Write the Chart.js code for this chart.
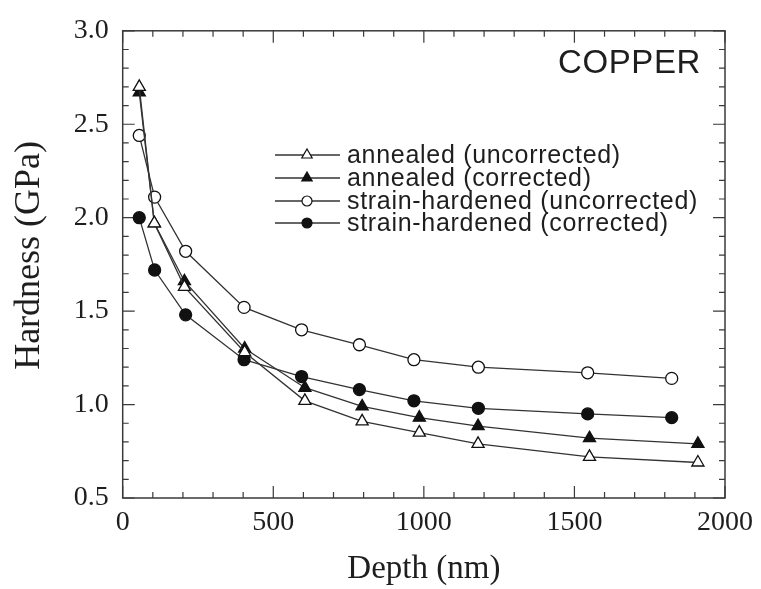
<!DOCTYPE html>
<html>
<head>
<meta charset="utf-8">
<script src="https://cdn.jsdelivr.net/npm/chart.js@4/dist/chart.umd.min.js"></script>
<style>
  html, body { margin: 0; padding: 0; background: #fff; }
  #wrap { width: 761px; height: 589px; }
</style>
</head>
<body>
<div id="wrap"><canvas id="c" width="761" height="589"></canvas></div>
<script>
// ---- data ----
const depthAnnealed = [55, 105, 205, 405, 605, 795, 985, 1180, 1550, 1910];
const hardAnnealedUncorrected = [2.70, 1.97, 1.63, 1.28, 1.02, 0.91, 0.85, 0.79, 0.72, 0.69];
const hardAnnealedCorrected = [2.67, 1.97, 1.66, 1.30, 1.09, 0.99, 0.93, 0.885, 0.82, 0.79];
const depthStrain = [55, 106, 209, 403, 594, 786, 967, 1181, 1544, 1823];
const hardStrainUncorrected = [2.44, 2.11, 1.82, 1.52, 1.40, 1.32, 1.24, 1.20, 1.17, 1.14];
const hardStrainCorrected = [2.00, 1.72, 1.48, 1.24, 1.15, 1.08, 1.02, 0.98, 0.95, 0.93];
const seriesLabels = ['annealed (uncorrected)', 'annealed (corrected)', 'strain-hardened (uncorrected)', 'strain-hardened (corrected)'];
const xTickValues = [0, 500, 1000, 1500, 2000];
const yTickValues = [0.5, 1.0, 1.5, 2.0, 2.5, 3.0];
const panelTitle = 'COPPER';

const INK = '#1e1e1e';
const LINE = '#333333';

function pts(xs, ys) { return xs.map((x, i) => ({ x: x, y: ys[i] })); }

const markers = [
  { style: 'triangle', fill: '#ffffff', r: 7 },
  { style: 'triangle', fill: '#111111', r: 7 },
  { style: 'circle', fill: '#ffffff', r: 6 },
  { style: 'circle', fill: '#111111', r: 6 }
];
const dataSets = [
  pts(depthAnnealed, hardAnnealedUncorrected),
  pts(depthAnnealed, hardAnnealedCorrected),
  pts(depthStrain, hardStrainUncorrected),
  pts(depthStrain, hardStrainCorrected)
];

const datasets = dataSets.map((d, i) => ({
  label: seriesLabels[i],
  data: d,
  showLine: true,
  borderColor: LINE,
  borderWidth: 1.3,
  pointStyle: markers[i].style,
  pointRadius: markers[i].r,
  pointHoverRadius: markers[i].r,
  pointBackgroundColor: markers[i].fill,
  pointBorderColor: '#111111',
  pointBorderWidth: 1.3,
  backgroundColor: markers[i].fill,
  tension: 0
}));

// frame with inward major/minor ticks on all four sides
const framePlugin = {
  id: 'frame',
  beforeDatasetsDraw(chart) {
    const { ctx, chartArea: a, scales: { x, y } } = chart;
    ctx.save();
    ctx.strokeStyle = '#3a3a3a';
    ctx.lineWidth = 1.5;
    ctx.strokeRect(a.left, a.top, a.right - a.left, a.bottom - a.top);
    ctx.lineWidth = 1.2;
    ctx.beginPath();
    for (let i = 0; i <= 20; i++) {
      const v = i * 100;
      const px = x.getPixelForValue(v);
      const len = (i % 5 === 0) ? 12 : 6;
      ctx.moveTo(px, a.bottom); ctx.lineTo(px, a.bottom - len);
      ctx.moveTo(px, a.top); ctx.lineTo(px, a.top + len);
    }
    for (let i = 5; i <= 30; i++) {
      const v = i / 10;
      const py = y.getPixelForValue(v);
      const len = (i % 5 === 0) ? 12 : 6;
      ctx.moveTo(a.left, py); ctx.lineTo(a.left + len, py);
      ctx.moveTo(a.right, py); ctx.lineTo(a.right - len, py);
    }
    ctx.stroke();
    ctx.restore();
  }
};

function drawMarker(ctx, style, fill, cx, cy, r) {
  ctx.beginPath();
  if (style === 'circle') {
    ctx.arc(cx, cy, r, 0, Math.PI * 2);
  } else {
    ctx.moveTo(cx, cy - r);
    ctx.lineTo(cx + r * Math.sin(2 * Math.PI / 3), cy - r * Math.cos(2 * Math.PI / 3));
    ctx.lineTo(cx + r * Math.sin(4 * Math.PI / 3), cy - r * Math.cos(4 * Math.PI / 3));
    ctx.closePath();
  }
  ctx.fillStyle = fill;
  ctx.fill();
  ctx.strokeStyle = '#111';
  ctx.lineWidth = 1.2;
  ctx.stroke();
}

const legendPlugin = {
  id: 'inlineLegend',
  afterDraw(chart) {
    const ctx = chart.ctx;
    ctx.save();
    const rows = [155, 178, 201, 223];
    seriesLabels.forEach((lab, i) => {
      const yy = rows[i];
      ctx.strokeStyle = LINE;
      ctx.lineWidth = 1.3;
      ctx.beginPath();
      ctx.moveTo(275, yy); ctx.lineTo(340, yy);
      ctx.stroke();
      drawMarker(ctx, markers[i].style, markers[i].fill, 307, yy, markers[i].style === 'circle' ? 5 : 6);
      ctx.fillStyle = INK;
      ctx.font = '25px "Liberation Sans", Arial, sans-serif';
      ctx.letterSpacing = '0.7px';
      ctx.textAlign = 'left';
      ctx.textBaseline = 'middle';
      ctx.fillText(lab, 347, yy + 1);
    });
    ctx.font = '33px "Liberation Sans", Arial, sans-serif';
    ctx.letterSpacing = '0.6px';
    ctx.textAlign = 'left';
    ctx.textBaseline = 'middle';
    ctx.fillText(panelTitle, 558, 64);
    ctx.restore();
  }
};

new Chart(document.getElementById('c'), {
  type: 'scatter',
  data: { datasets: datasets },
  options: {
    responsive: false,
    animation: false,
    devicePixelRatio: 1,
    layout: { padding: { left: 0, right: 33.3, top: 26, bottom: 0 } },
    plugins: { legend: { display: false }, tooltip: { enabled: false } },
    scales: {
      x: {
        type: 'linear', min: 0, max: 2000,
        afterBuildTicks(scale) { scale.ticks = xTickValues.map(v => ({ value: v })); },
        afterFit(scale) { scale.height = 91; },
        grid: { display: false, drawTicks: false },
        border: { display: false },
        ticks: {
          padding: 8, color: INK, maxRotation: 0, autoSkip: false,
          font: { family: '"Liberation Serif", "Times New Roman", serif', size: 28 },
          callback: v => String(v)
        },
        title: {
          display: true, text: 'Depth (nm)', color: INK,
          padding: { top: 0, bottom: 0 },
          font: { family: '"Liberation Serif", "Times New Roman", serif', size: 33 }
        }
      },
      y: {
        type: 'linear', min: 0.5, max: 3.0,
        afterBuildTicks(scale) { scale.ticks = yTickValues.map(v => ({ value: v })); },
        afterFit(scale) { scale.width = 122.7; },
        grid: { display: false, drawTicks: false },
        border: { display: false },
        ticks: {
          padding: 14, color: INK, autoSkip: false,
          font: { family: '"Liberation Serif", "Times New Roman", serif', size: 28 },
          callback: v => Number(v).toFixed(1)
        },
        title: {
          display: true, text: '  Hardness (GPa)', color: INK,
          padding: { top: 8, bottom: 0 },
          font: { family: '"Liberation Serif", "Times New Roman", serif', size: 36 }
        }
      }
    }
  },
  plugins: [framePlugin, legendPlugin]
});
</script>
</body>
</html>
